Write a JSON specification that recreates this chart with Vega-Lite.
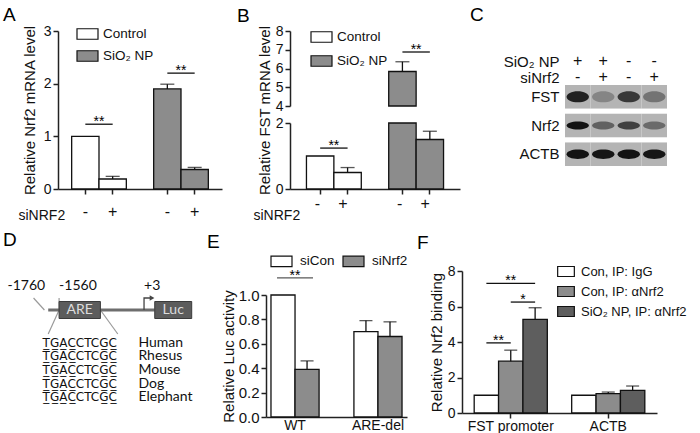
{
 "$schema": "https://vega.github.io/schema/vega-lite/v6.json",
 "padding": {"left": 3, "top": 5, "right": 5, "bottom": 5},
 "columns": 3,
 "align": "none",
 "bounds": "flush",
 "spacing": {"row": 82, "column": 55},
 "resolve": {"scale": {"fill": "independent", "color": "independent", "shape": "independent"}},
 "config": {
  "view": {"stroke": null},
  "font": "Liberation Sans",
  "axis": {"domainColor": "#222222", "domainWidth": 1.5, "tickColor": "#222222", "tickWidth": 1.5, "tickSize": 5, "labelColor": "#111111", "labelFontSize": 14, "titleFontSize": 15, "titleFontWeight": "normal", "titleColor": "#111111", "grid": false, "labelPadding": 2, "labelOverlap": false},
  "legend": {"labelFontSize": 13.5, "labelColor": "#111111"},
  "title": {"fontSize": 19, "fontWeight": "normal", "anchor": "start", "frame": "group", "color": "#000000", "offset": -2}
 },
 "datasets": {
  "nrf2_mrna": [
   {"bar": "Control -", "treatment": "Control", "siNRF2": "-", "mean": 1.0, "upper": null},
   {"bar": "Control +", "treatment": "Control", "siNRF2": "+", "mean": 0.19, "upper": 0.24},
   {"bar": "SiO₂ NP -", "treatment": "SiO₂ NP", "siNRF2": "-", "mean": 1.9, "upper": 1.99},
   {"bar": "SiO₂ NP +", "treatment": "SiO₂ NP", "siNRF2": "+", "mean": 0.37, "upper": 0.41}
  ],
  "nrf2_sig": [
   {"from": "Control -", "to": "Control +", "y": 1.23, "label": "**"},
   {"from": "SiO₂ NP -", "to": "SiO₂ NP +", "y": 2.2, "label": "**"}
  ],
  "fst_mrna": [
   {"bar": "Control -", "treatment": "Control", "siNRF2": "-", "mean": 1.0, "upper": null},
   {"bar": "Control +", "treatment": "Control", "siNRF2": "+", "mean": 0.5, "upper": 0.65},
   {"bar": "SiO₂ NP -", "treatment": "SiO₂ NP", "siNRF2": "-", "mean": 5.84, "upper": 6.36},
   {"bar": "SiO₂ NP +", "treatment": "SiO₂ NP", "siNRF2": "+", "mean": 1.5, "upper": 1.75}
  ],
  "fst_sig": [
   {"from": "Control -", "to": "Control +", "y": 1.24, "label": "**"},
   {"from": "SiO₂ NP -", "to": "SiO₂ NP +", "y": 6.88, "label": "**"}
  ],
  "western_blot_header": [
   {"condition": "SiO₂ NP", "lane": 1, "sign": "+"},
   {"condition": "SiO₂ NP", "lane": 2, "sign": "+"},
   {"condition": "SiO₂ NP", "lane": 3, "sign": "-"},
   {"condition": "SiO₂ NP", "lane": 4, "sign": "-"},
   {"condition": "siNrf2", "lane": 1, "sign": "-"},
   {"condition": "siNrf2", "lane": 2, "sign": "+"},
   {"condition": "siNrf2", "lane": 3, "sign": "-"},
   {"condition": "siNrf2", "lane": 4, "sign": "+"}
  ],
  "western_blot": [
   {"protein": "FST", "lane": 1, "intensity": 0.85},
   {"protein": "FST", "lane": 2, "intensity": 0.25},
   {"protein": "FST", "lane": 3, "intensity": 0.7},
   {"protein": "FST", "lane": 4, "intensity": 0.35},
   {"protein": "Nrf2", "lane": 1, "intensity": 0.95},
   {"protein": "Nrf2", "lane": 2, "intensity": 0.45},
   {"protein": "Nrf2", "lane": 3, "intensity": 0.65},
   {"protein": "Nrf2", "lane": 4, "intensity": 0.4},
   {"protein": "ACTB", "lane": 1, "intensity": 0.95},
   {"protein": "ACTB", "lane": 2, "intensity": 0.93},
   {"protein": "ACTB", "lane": 3, "intensity": 0.95},
   {"protein": "ACTB", "lane": 4, "intensity": 0.93}
  ],
  "promoter_line": [
   {"element": "promoter", "track": "promoter", "start": -1760, "end": 200}
  ],
  "promoter_boxes": [
   {"element": "ARE", "track": "promoter", "start": -1560, "end": -800, "center": -1180},
   {"element": "Luc", "track": "promoter", "start": 200, "end": 880, "center": 540}
  ],
  "promoter_coords": [
   {"label": "-1760", "track": "label", "pos": -1760},
   {"label": "-1560", "track": "label", "pos": -1560},
   {"label": "+3", "track": "label", "pos": 3}
  ],
  "promoter_paths": [
   {"path": "-1760 leader", "kind": "leader", "step": 1, "pos": -2030, "track": "arrow"},
   {"path": "-1760 leader", "kind": "leader", "step": 2, "pos": -1830, "track": "promoter"},
   {"path": "-1560 leader", "kind": "leader", "step": 1, "pos": -1560, "track": "arrow"},
   {"path": "-1560 leader", "kind": "leader", "step": 2, "pos": -1560, "track": "promoter"},
   {"path": "ARE left", "kind": "leader", "step": 1, "pos": -1560, "track": "promoter"},
   {"path": "ARE left", "kind": "leader", "step": 2, "pos": -1760, "track": "sequence top"},
   {"path": "ARE right", "kind": "leader", "step": 1, "pos": -800, "track": "promoter"},
   {"path": "ARE right", "kind": "leader", "step": 2, "pos": -480, "track": "sequence top"},
   {"path": "TSS", "kind": "tss", "step": 1, "pos": 3, "track": "promoter"},
   {"path": "TSS", "kind": "tss", "step": 2, "pos": 3, "track": "arrow"},
   {"path": "TSS", "kind": "tss", "step": 3, "pos": 150, "track": "arrow"}
  ],
  "are_conservation": [
   {"species": "Human", "sequence": "T\u0332G\u0332A\u0332C\u0332CTCG\u0332C\u0332"},
   {"species": "Rhesus", "sequence": "T\u0332G\u0332A\u0332C\u0332CTCG\u0332C\u0332"},
   {"species": "Mouse", "sequence": "T\u0332G\u0332A\u0332C\u0332CTCG\u0332C\u0332"},
   {"species": "Dog", "sequence": "T\u0332G\u0332A\u0332C\u0332CTCG\u0332C\u0332"},
   {"species": "Elephant", "sequence": "T\u0332G\u0332A\u0332C\u0332CTCG\u0332C\u0332"}
  ],
  "luc_activity": [
   {"construct": "WT", "siRNA": "siCon", "mean": 1.0, "upper": null},
   {"construct": "WT", "siRNA": "siNrf2", "mean": 0.39, "upper": 0.46},
   {"construct": "ARE-del", "siRNA": "siCon", "mean": 0.7, "upper": 0.79},
   {"construct": "ARE-del", "siRNA": "siNrf2", "mean": 0.66, "upper": 0.78}
  ],
  "luc_sig": [
   {"construct": "WT", "y": 1.14, "label": "**"}
  ],
  "chip": [
   {"bar": "FST promoter / Con, IP: IgG", "target": "FST promoter", "condition": "Con, IP: IgG", "mean": 1.0, "upper": null},
   {"bar": "FST promoter / Con, IP: αNrf2", "target": "FST promoter", "condition": "Con, IP: αNrf2", "mean": 2.92, "upper": 3.54},
   {"bar": "FST promoter / SiO₂ NP, IP: αNrf2", "target": "FST promoter", "condition": "SiO₂ NP, IP: αNrf2", "mean": 5.27, "upper": 5.93},
   {"bar": "ACTB / Con, IP: IgG", "target": "ACTB", "condition": "Con, IP: IgG", "mean": 1.0, "upper": null},
   {"bar": "ACTB / Con, IP: αNrf2", "target": "ACTB", "condition": "Con, IP: αNrf2", "mean": 1.09, "upper": 1.18},
   {"bar": "ACTB / SiO₂ NP, IP: αNrf2", "target": "ACTB", "condition": "SiO₂ NP, IP: αNrf2", "mean": 1.28, "upper": 1.52}
  ],
  "chip_sig": [
   {"pair": "IgG vs SiO₂ NP", "from": "FST promoter / Con, IP: IgG", "to": "FST promoter / SiO₂ NP, IP: αNrf2", "middle": "FST promoter / Con, IP: αNrf2", "y": 7.3, "label": "**"},
   {"pair": "αNrf2 vs SiO₂ NP", "from": "FST promoter / Con, IP: αNrf2", "to": "FST promoter / SiO₂ NP, IP: αNrf2", "middle": "FST promoter / SiO₂ NP, IP: αNrf2", "y": 6.25, "label": "*"},
   {"pair": "IgG vs αNrf2", "from": "FST promoter / Con, IP: IgG", "to": "FST promoter / Con, IP: αNrf2", "middle": "FST promoter / Con, IP: αNrf2", "y": 3.95, "label": "**"}
  ]
 },
 "concat": [
  {
   "width": 153, "height": 158,
   "title": {"text": "A", "dx": -55},
   "data": {"name": "nrf2_mrna"},
   "layer": [
    {
     "mark": {"type": "bar", "stroke": "#111111", "strokeWidth": 1.3},
     "encoding": {
      "x": {"field": "bar", "type": "nominal", "sort": null,
            "scale": {"domain": ["Control -", "Control +", " ", "SiO₂ NP -", "SiO₂ NP +"], "range": [0, 164], "paddingInner": 0, "paddingOuter": 0.5},
            "axis": {"values": ["Control -", "Control +", "SiO₂ NP -", "SiO₂ NP +"], "labelExpr": "slice(datum.label, -1)", "labelAngle": 0, "labelFontSize": 16, "labelPadding": 9, "title": "siNRF2", "titleX": -40, "titleY": 30, "titleAlign": "left", "titleAnchor": "start", "titleBaseline": "alphabetic", "titleFontSize": 14}},
      "y": {"field": "mean", "type": "quantitative", "scale": {"domain": [0, 3]}, "axis": {"values": [0, 1, 2, 3], "format": "d", "tickCount": 12, "labelOverlap": false, "title": "Relative Nrf2 mRNA level", "titlePadding": 6}},
      "fill": {"field": "treatment", "type": "nominal", "scale": {"domain": ["Control", "SiO₂ NP"], "range": ["#ffffff", "#8c8c8c"]},
               "legend": {"title": null, "orient": "none", "legendX": 18, "legendY": -8.5, "symbolType": "M-1,-0.5H1V0.5H-1Z", "symbolSize": 441, "symbolStrokeColor": "#111111", "symbolStrokeWidth": 1.2, "labelFontSize": 13.5, "labelOffset": 4, "rowPadding": 2}}
     }
    },
    {
     "transform": [{"filter": "datum.upper != null"}],
     "mark": {"type": "rule", "stroke": "#111111", "strokeWidth": 1.3},
     "encoding": {"x": {"field": "bar", "type": "nominal"}, "y": {"field": "mean", "type": "quantitative"}, "y2": {"field": "upper"}}
    },
    {
     "transform": [{"filter": "datum.upper != null"}],
     "mark": {"type": "tick", "orient": "horizontal", "color": "#111111", "thickness": 1.3, "size": 14},
     "encoding": {"x": {"field": "bar", "type": "nominal"}, "y": {"field": "upper", "type": "quantitative"}}
    },
    {
     "data": {"name": "nrf2_sig"},
     "mark": {"type": "rule", "stroke": "#111111", "strokeWidth": 1.3},
     "encoding": {"x": {"field": "from", "type": "nominal"}, "x2": {"field": "to"}, "y": {"field": "y", "type": "quantitative"}}
    },
    {
     "data": {"name": "nrf2_sig"},
     "mark": {"type": "text", "fontSize": 14, "baseline": "alphabetic", "dy": 2},
     "encoding": {"x": {"field": "to", "type": "nominal", "bandPosition": 0}, "y": {"field": "y", "type": "quantitative"}, "text": {"field": "label"}}
    }
   ]
  },
  {
   "width": 141, "height": 158,
   "title": {"text": "B", "dx": -29},
   "data": {"name": "fst_mrna"},
   "layer": [
    {
     "encoding": {"y": {"type": "quantitative", "scale": {"domain": [4, 8], "range": [75, 0], "clamp": true}, "axis": {"values": [4, 5, 6, 7, 8], "format": "d", "tickCount": 12, "labelOverlap": false, "title": "Relative FST mRNA level", "titleY": 79, "titlePadding": 3, "orient": "left", "offset": -24}}},
     "layer": [
      {
       "transform": [{"filter": "datum.mean >= 4"}],
       "mark": {"type": "bar", "stroke": "#111111", "strokeWidth": 1.3},
       "encoding": {
        "x": {"field": "bar", "type": "nominal", "sort": null, "scale": {"domain": ["Control -", "Control +", " ", "SiO₂ NP -", "SiO₂ NP +"], "range": [24, 194], "paddingInner": 0, "paddingOuter": 0.6}},
        "y": {"field": "mean"},
        "y2": {"datum": 4},
        "fill": {"field": "treatment", "type": "nominal", "scale": {"domain": ["Control", "SiO₂ NP"], "range": ["#ffffff", "#8c8c8c"]},
                 "legend": {"title": null, "orient": "none", "legendX": 44, "legendY": -5.5, "symbolType": "M-1,-0.5H1V0.5H-1Z", "symbolSize": 441, "symbolStrokeColor": "#111111", "symbolStrokeWidth": 1.2, "labelFontSize": 13.5, "labelOffset": 4, "rowPadding": 4}}
       }
      },
      {
       "transform": [{"filter": "datum.upper != null && datum.upper >= 4"}],
       "mark": {"type": "rule", "stroke": "#111111", "strokeWidth": 1.3},
       "encoding": {"x": {"field": "bar", "type": "nominal"}, "y": {"field": "mean"}, "y2": {"field": "upper"}}
      },
      {
       "transform": [{"filter": "datum.upper != null && datum.upper >= 4"}],
       "mark": {"type": "tick", "orient": "horizontal", "color": "#111111", "thickness": 1.3, "size": 14},
       "encoding": {"x": {"field": "bar", "type": "nominal"}, "y": {"field": "upper"}}
      },
      {
       "data": {"name": "fst_sig"},
       "transform": [{"filter": "datum.y >= 4"}],
       "mark": {"type": "rule", "stroke": "#111111", "strokeWidth": 1.3},
       "encoding": {"x": {"field": "from", "type": "nominal"}, "x2": {"field": "to"}, "y": {"field": "y"}}
      },
      {
       "data": {"name": "fst_sig"},
       "transform": [{"filter": "datum.y >= 4"}],
       "mark": {"type": "text", "fontSize": 14, "baseline": "alphabetic", "dy": 2},
       "encoding": {"x": {"field": "to", "type": "nominal", "bandPosition": 0}, "y": {"field": "y"}, "text": {"field": "label"}}
      }
     ]
    },
    {
     "encoding": {"y": {"type": "quantitative", "scale": {"domain": [0, 2], "range": [158, 92], "clamp": true}, "axis": {"values": [0, 1, 2], "format": "d", "tickCount": 12, "labelOverlap": false, "title": null, "orient": "left", "offset": -24}}},
     "layer": [
      {
       "mark": {"type": "bar", "stroke": "#111111", "strokeWidth": 1.3},
       "encoding": {
        "x": {"field": "bar", "type": "nominal", "sort": null,
              "scale": {"domain": ["Control -", "Control +", " ", "SiO₂ NP -", "SiO₂ NP +"], "range": [24, 194], "paddingInner": 0, "paddingOuter": 0.6},
              "axis": {"values": ["Control -", "Control +", "SiO₂ NP -", "SiO₂ NP +"], "labelExpr": "slice(datum.label, -1)", "labelAngle": 0, "labelFontSize": 16, "labelPadding": 9, "title": "siNRF2", "titleX": -13, "titleY": 30, "titleAlign": "left", "titleAnchor": "start", "titleBaseline": "alphabetic", "titleFontSize": 14}},
        "y": {"field": "mean"},
        "fill": {"field": "treatment", "type": "nominal"}
       }
      },
      {
       "transform": [{"filter": "datum.upper != null && datum.upper <= 2"}],
       "mark": {"type": "rule", "stroke": "#111111", "strokeWidth": 1.3},
       "encoding": {"x": {"field": "bar", "type": "nominal"}, "y": {"field": "mean"}, "y2": {"field": "upper"}}
      },
      {
       "transform": [{"filter": "datum.upper != null && datum.upper <= 2"}],
       "mark": {"type": "tick", "orient": "horizontal", "color": "#111111", "thickness": 1.3, "size": 14},
       "encoding": {"x": {"field": "bar", "type": "nominal"}, "y": {"field": "upper"}}
      },
      {
       "data": {"name": "fst_sig"},
       "transform": [{"filter": "datum.y <= 2"}],
       "mark": {"type": "rule", "stroke": "#111111", "strokeWidth": 1.3},
       "encoding": {"x": {"field": "from", "type": "nominal"}, "x2": {"field": "to"}, "y": {"field": "y"}}
      },
      {
       "data": {"name": "fst_sig"},
       "transform": [{"filter": "datum.y <= 2"}],
       "mark": {"type": "text", "fontSize": 14, "baseline": "alphabetic", "dy": 2},
       "encoding": {"x": {"field": "to", "type": "nominal", "bandPosition": 0}, "y": {"field": "y"}, "text": {"field": "label"}}
      }
     ]
    }
   ],
   "resolve": {"scale": {"y": "independent"}}
  },
  {
   "width": 205, "height": 135,
   "title": {"text": "C", "dx": 8, "dy": -8},
   "layer": [
    {
     "data": {"name": "western_blot_header"},
     "mark": {"type": "text", "fontSize": 16, "color": "#111111"},
     "encoding": {
      "x": {"field": "lane", "type": "ordinal", "scale": {"type": "band", "domain": [1, 2, 3, 4], "range": [103, 205], "paddingInner": 0, "paddingOuter": 0}, "axis": null},
      "y": {"field": "condition", "type": "nominal", "scale": {"type": "point", "domain": ["SiO₂ NP", "siNrf2"], "range": [30, 46], "padding": 0},
            "axis": {"orient": "left", "offset": -103, "domain": false, "ticks": false, "title": null, "labelFontSize": 15, "labelPadding": 6}},
      "text": {"field": "sign"}
     }
    },
    {
     "data": {"name": "western_blot"},
     "encoding": {
      "x": {"field": "lane", "type": "ordinal", "scale": {"type": "band", "domain": [1, 2, 3, 4], "range": [103, 205], "paddingInner": 0, "paddingOuter": 0}, "axis": null},
      "y": {"field": "protein", "type": "nominal", "scale": {"type": "band", "domain": ["FST", "Nrf2", "ACTB"], "range": [54, 135], "paddingInner": 0.18, "paddingOuter": 0},
            "axis": {"orient": "left", "offset": -103, "domain": false, "ticks": false, "title": null, "labelFontSize": 15, "labelPadding": 6}}
     },
     "layer": [
      {"mark": {"type": "rect", "fill": "#b4b4b4", "stroke": null}},
      {
       "mark": {"type": "point", "filled": true, "opacity": 1, "size": 500},
       "encoding": {
        "shape": {"field": "protein", "type": "nominal", "scale": {"domain": ["FST", "Nrf2", "ACTB"], "range": ["M-1,0A1,0.5,0,1,0,1,0A1,0.5,0,1,0,-1,0Z", "M-1,0A1,0.36,0,1,0,1,0A1,0.36,0,1,0,-1,0Z", "M-1,0A1,0.42,0,1,0,1,0A1,0.42,0,1,0,-1,0Z"]}, "legend": null},
        "color": {"field": "intensity", "type": "quantitative", "scale": {"domain": [0, 1], "range": ["#b4b4b4", "#080808"]}, "legend": null}
       }
      }
     ]
    }
   ],
   "resolve": {"scale": {"y": "independent"}}
  },
  {
   "width": 153, "height": 130,
   "title": {"text": "D", "dx": -55, "dy": -23},
   "layer": [
    {
     "encoding": {"y": {"field": "track", "type": "nominal", "scale": {"type": "band", "domain": ["label", "arrow", "promoter", "connector", "sequence top"], "range": [9, 69], "paddingInner": 0, "paddingOuter": 0}, "axis": null}},
     "layer": [
      {
       "data": {"name": "promoter_paths"},
       "transform": [{"filter": "datum.kind == 'leader'"}],
       "mark": {"type": "line", "stroke": "#9a9a9a", "strokeWidth": 1.2},
       "encoding": {"x": {"field": "pos", "type": "quantitative", "scale": {"domain": [-1580, 1235], "nice": false, "zero": false}, "axis": null}, "detail": {"field": "path"}, "order": {"field": "step", "type": "quantitative"}}
      },
      {
       "data": {"name": "promoter_line"},
       "mark": {"type": "rule", "stroke": "#6e6e6e", "strokeWidth": 3},
       "encoding": {"x": {"field": "start", "type": "quantitative", "scale": {"domain": [-1580, 1235], "nice": false, "zero": false}, "axis": null}, "x2": {"field": "end"}}
      },
      {
       "data": {"name": "promoter_paths"},
       "transform": [{"filter": "datum.kind == 'tss'"}],
       "mark": {"type": "line", "stroke": "#444444", "strokeWidth": 1.3},
       "encoding": {"x": {"field": "pos", "type": "quantitative", "scale": {"domain": [-1580, 1235], "nice": false, "zero": false}, "axis": null}, "detail": {"field": "path"}, "order": {"field": "step", "type": "quantitative"}}
      },
      {
       "data": {"name": "promoter_paths"},
       "transform": [{"filter": "datum.kind == 'tss' && datum.step == 3"}],
       "mark": {"type": "point", "shape": "triangle-right", "filled": true, "color": "#444444", "size": 30, "opacity": 1},
       "encoding": {"x": {"field": "pos", "type": "quantitative", "scale": {"domain": [-1580, 1235], "nice": false, "zero": false}, "axis": null}}
      },
      {
       "data": {"name": "promoter_boxes"},
       "mark": {"type": "rect", "height": 17, "fill": "#5c5c5c", "stroke": "#3a3a3a", "strokeWidth": 1},
       "encoding": {"x": {"field": "start", "type": "quantitative", "scale": {"domain": [-1580, 1235], "nice": false, "zero": false}, "axis": null}, "x2": {"field": "end"}}
      },
      {
       "data": {"name": "promoter_boxes"},
       "mark": {"type": "text", "font": "Lato", "fontSize": 14, "color": "#dddddd"},
       "encoding": {"x": {"field": "center", "type": "quantitative", "scale": {"domain": [-1580, 1235], "nice": false, "zero": false}, "axis": null}, "text": {"field": "element"}}
      },
      {
       "data": {"name": "promoter_coords"},
       "transform": [{"filter": "datum.label == '-1760'"}],
       "mark": {"type": "text", "font": "Lato", "fontSize": 14, "align": "right", "dx": -3, "color": "#111111"},
       "encoding": {"x": {"field": "pos", "type": "quantitative", "scale": {"domain": [-1580, 1235], "nice": false, "zero": false}, "axis": null}, "text": {"field": "label"}}
      },
      {
       "data": {"name": "promoter_coords"},
       "transform": [{"filter": "datum.label != '-1760'"}],
       "mark": {"type": "text", "font": "Lato", "fontSize": 14, "align": "left", "color": "#111111"},
       "encoding": {"x": {"field": "pos", "type": "quantitative", "scale": {"domain": [-1580, 1235], "nice": false, "zero": false}, "axis": null}, "text": {"field": "label"}}
      }
     ]
    },
    {
     "data": {"name": "are_conservation"},
     "encoding": {"y": {"field": "species", "type": "nominal", "sort": null, "scale": {"type": "band", "domain": ["Human", "Rhesus", "Mouse", "Dog", "Elephant"], "range": [65, 133], "paddingInner": 0, "paddingOuter": 0}, "axis": null}},
     "layer": [
      {
       "mark": {"type": "text", "font": "DejaVu Sans", "fontSize": 12, "color": "#111111"},
       "encoding": {"x": {"datum": -1180, "type": "quantitative", "scale": {"domain": [-1580, 1235], "nice": false, "zero": false}, "axis": null}, "text": {"field": "sequence"}}
      },
      {
       "mark": {"type": "text", "font": "Lato", "fontSize": 14, "align": "left", "color": "#111111"},
       "encoding": {"x": {"datum": -100, "type": "quantitative", "scale": {"domain": [-1580, 1235], "nice": false, "zero": false}, "axis": null}, "text": {"field": "species"}}
      }
     ]
    }
   ],
   "resolve": {"scale": {"y": "independent"}}
  },
  {
   "width": 141, "height": 146,
   "title": {"text": "E", "dx": -59},
   "data": {"name": "luc_activity"},
   "layer": [
    {
     "mark": {"type": "bar", "stroke": "#111111", "strokeWidth": 1.3},
     "encoding": {
      "x": {"field": "construct", "type": "nominal", "sort": null, "scale": {"domain": ["WT", "ARE-del"], "paddingInner": 0.42, "paddingOuter": 0.06}, "axis": {"title": null, "ticks": false, "labelAngle": 0, "labelFontSize": 14, "labelPadding": 1}},
      "xOffset": {"field": "siRNA", "type": "nominal", "sort": null, "scale": {"domain": ["siCon", "siNrf2"], "paddingInner": 0, "paddingOuter": 0}},
      "y": {"field": "mean", "type": "quantitative", "scale": {"domain": [0, 1], "range": [146, 24]}, "axis": {"values": [0, 0.2, 0.4, 0.6, 0.8, 1], "tickCount": 12, "labelOverlap": false, "format": ".1f", "labelFontSize": 15, "title": "Relative Luc activity", "titlePadding": 2, "titleY": 85}},
      "fill": {"field": "siRNA", "type": "nominal", "scale": {"domain": ["siCon", "siNrf2"], "range": ["#ffffff", "#8c8c8c"]},
               "legend": {"title": null, "orient": "none", "direction": "horizontal", "columns": 2, "legendX": 4, "legendY": -21.5, "symbolType": "M-1,-0.5H1V0.5H-1Z", "symbolSize": 441, "symbolStrokeColor": "#111111", "symbolStrokeWidth": 1.2, "labelFontSize": 13.5, "labelOffset": 7, "columnPadding": 5}}
     }
    },
    {
     "transform": [{"filter": "datum.upper != null"}],
     "mark": {"type": "rule", "stroke": "#111111", "strokeWidth": 1.3},
     "encoding": {"x": {"field": "construct", "type": "nominal"}, "xOffset": {"field": "siRNA", "type": "nominal"}, "y": {"field": "mean", "type": "quantitative"}, "y2": {"field": "upper"}}
    },
    {
     "transform": [{"filter": "datum.upper != null"}],
     "mark": {"type": "tick", "orient": "horizontal", "color": "#111111", "thickness": 1.3, "size": 13},
     "encoding": {"x": {"field": "construct", "type": "nominal"}, "xOffset": {"field": "siRNA", "type": "nominal"}, "y": {"field": "upper", "type": "quantitative"}}
    },
    {
     "data": {"name": "luc_sig"},
     "mark": {"type": "tick", "orient": "horizontal", "color": "#111111", "thickness": 1.3, "size": 36},
     "encoding": {"x": {"field": "construct", "type": "nominal"}, "y": {"field": "y", "type": "quantitative"}}
    },
    {
     "data": {"name": "luc_sig"},
     "mark": {"type": "text", "fontSize": 14, "baseline": "alphabetic", "dy": 2},
     "encoding": {"x": {"field": "construct", "type": "nominal"}, "y": {"field": "y", "type": "quantitative"}, "text": {"field": "label"}}
    }
   ]
  },
  {
   "width": 195, "height": 142,
   "title": {"text": "F", "dx": -45, "dy": -12},
   "data": {"name": "chip"},
   "layer": [
    {
     "mark": {"type": "bar", "stroke": "#111111", "strokeWidth": 1.3},
     "encoding": {
      "x": {"field": "bar", "type": "nominal", "sort": null,
            "scale": {"domain": ["FST promoter / Con, IP: IgG", "FST promoter / Con, IP: αNrf2", "FST promoter / SiO₂ NP, IP: αNrf2", " ", "ACTB / Con, IP: IgG", "ACTB / Con, IP: αNrf2", "ACTB / SiO₂ NP, IP: αNrf2"], "paddingInner": 0, "paddingOuter": 0.5},
            "axis": {"values": ["FST promoter / Con, IP: αNrf2", "ACTB / Con, IP: αNrf2"], "labelExpr": "split(datum.label, ' / ')[0]", "labelAngle": 0, "labelFontSize": 14, "labelPadding": 1, "title": null}},
      "y": {"field": "mean", "type": "quantitative", "scale": {"domain": [0, 8]}, "axis": {"values": [0, 2, 4, 6, 8], "format": "d", "tickCount": 12, "labelOverlap": false, "title": "Relative Nrf2 binding", "titlePadding": 3}},
      "fill": {"field": "condition", "type": "nominal", "scale": {"domain": ["Con, IP: IgG", "Con, IP: αNrf2", "SiO₂ NP, IP: αNrf2"], "range": ["#ffffff", "#8c8c8c", "#5e5e5e"]},
               "legend": {"title": null, "orient": "none", "legendX": 95, "legendY": -8.5, "symbolType": "M-1,-0.6H1V0.6H-1Z", "symbolSize": 278, "symbolStrokeColor": "#111111", "symbolStrokeWidth": 1.2, "labelFontSize": 13, "labelOffset": 6, "rowPadding": 3}}
     }
    },
    {
     "transform": [{"filter": "datum.upper != null"}],
     "mark": {"type": "rule", "stroke": "#111111", "strokeWidth": 1.3},
     "encoding": {"x": {"field": "bar", "type": "nominal"}, "y": {"field": "mean", "type": "quantitative"}, "y2": {"field": "upper"}}
    },
    {
     "transform": [{"filter": "datum.upper != null"}],
     "mark": {"type": "tick", "orient": "horizontal", "color": "#111111", "thickness": 1.3, "size": 13},
     "encoding": {"x": {"field": "bar", "type": "nominal"}, "y": {"field": "upper", "type": "quantitative"}}
    },
    {
     "data": {"name": "chip_sig"},
     "mark": {"type": "rule", "stroke": "#111111", "strokeWidth": 1.3},
     "encoding": {"x": {"field": "from", "type": "nominal"}, "x2": {"field": "to"}, "y": {"field": "y", "type": "quantitative"}}
    },
    {
     "data": {"name": "chip_sig"},
     "transform": [{"filter": "datum.pair == 'IgG vs SiO₂ NP'"}],
     "mark": {"type": "text", "fontSize": 14, "baseline": "alphabetic", "dy": 2},
     "encoding": {"x": {"field": "middle", "type": "nominal"}, "y": {"field": "y", "type": "quantitative"}, "text": {"field": "label"}}
    },
    {
     "data": {"name": "chip_sig"},
     "transform": [{"filter": "datum.pair != 'IgG vs SiO₂ NP'"}],
     "mark": {"type": "text", "fontSize": 14, "baseline": "alphabetic", "dy": 2},
     "encoding": {"x": {"field": "middle", "type": "nominal", "bandPosition": 0}, "y": {"field": "y", "type": "quantitative"}, "text": {"field": "label"}}
    }
   ]
  }
 ]
}
